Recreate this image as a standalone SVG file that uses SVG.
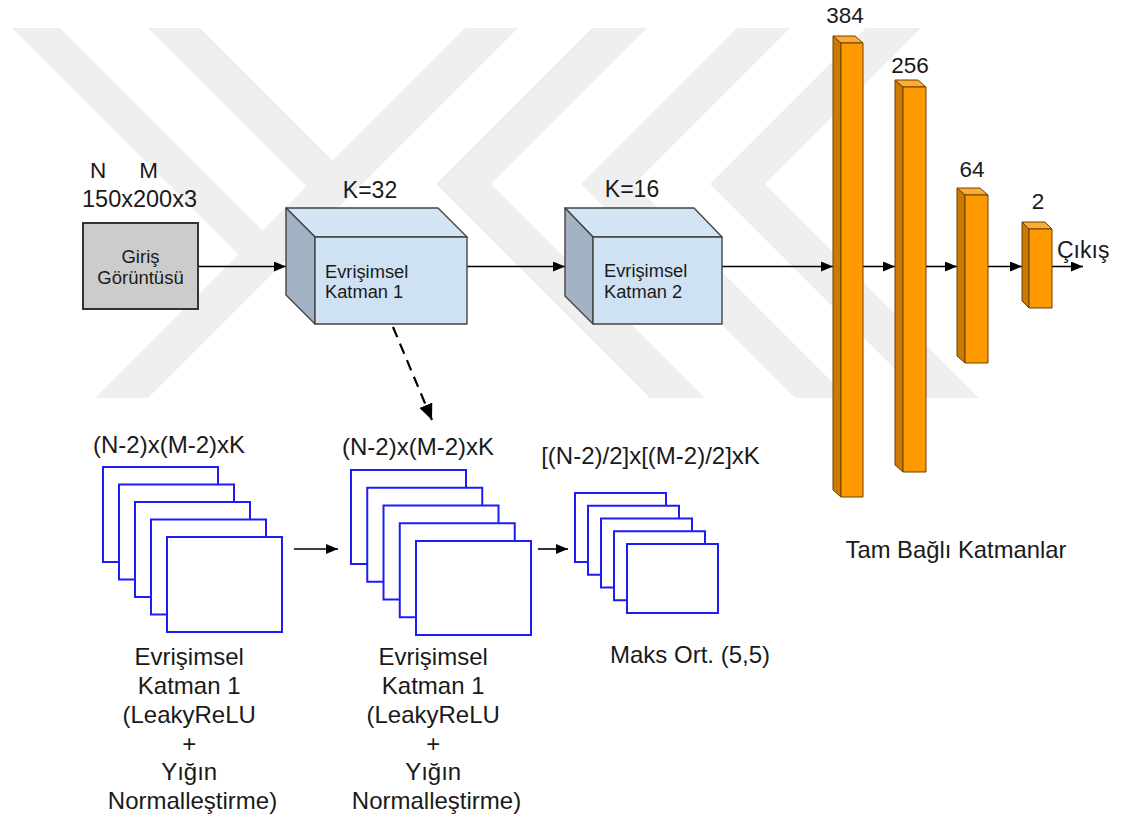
<svg xmlns="http://www.w3.org/2000/svg" width="1121" height="821" viewBox="0 0 1121 821">
  <defs>
    <style>
      text { font-family: "Liberation Sans", Arial, sans-serif; fill: #1a1a1a; }
      .lbl { font-size: 23px; }
      .num { font-size: 22.5px; }
      .big { font-size: 24px; }
      .box { font-size: 18.3px; }
      .mark { fill: #efefef; }
      .conn { stroke: #000; stroke-width: 1.6; fill: none; }
      .dash { stroke: #000; stroke-width: 2.2; fill: none; stroke-dasharray: 11 7; }
      .cube { stroke: #434343; stroke-width: 1.4; stroke-linejoin: round; }
      .cfront { fill: #cfe2f3; }
      .ctop { fill: #d3e4f4; }
      .cside { fill: #a4b3c3; }
      .bar { stroke: #6b4000; stroke-width: 1; stroke-linejoin: round; }
      .bfront { fill: #ff9900; }
      .bside { fill: #cc7a00; }
      .btop { fill: #ffab33; }
      .frame { fill: #fff; stroke: #1c1cf5; stroke-width: 2; }
    </style>
    <marker id="ah" viewBox="0 0 12 10" refX="12" refY="5" markerWidth="12" markerHeight="10" markerUnits="userSpaceOnUse" orient="auto">
      <path d="M0,0 L12,5 L0,10 Z" fill="#000"/>
    </marker>
    <marker id="ahL" viewBox="0 0 16 14" refX="16" refY="7" markerWidth="16" markerHeight="14" markerUnits="userSpaceOnUse" orient="auto">
      <path d="M0,0 L16,7 L0,14 Z" fill="#000"/>
    </marker>
  </defs>

  <rect x="0" y="0" width="1121" height="821" fill="#fff"/>

  <!-- faint background emblem -->
  <g id="emblem">
    <polygon class="mark" points="465,28 518,28 148,398 95,398"/>
    <polygon class="mark" points="12,28 60,28 289,257 238.5,254.5"/>
    <polygon class="mark" points="148,28 200,28 359,187 306.5,186.5"/>
    <polygon class="mark" points="866,28 921,28 765,184 979,398 924,398 710,184"/>
    <polygon class="mark" points="737,28 790,28 634,184 848,398 795,398 581,184"/>
    <polygon class="mark" points="592,28 647,28 491,184 705,398 650,398 436,184"/>
  </g>

  <!-- connectors -->
  <g id="connectors">
    <path class="conn" d="M198,266.5 H286" marker-end="url(#ah)"/>
    <path class="conn" d="M467,266.5 H565" marker-end="url(#ah)"/>
    <path class="conn" d="M722,266.5 H833" marker-end="url(#ah)"/>
    <path class="conn" d="M863,266.5 H895" marker-end="url(#ah)"/>
    <path class="conn" d="M926,266.5 H957" marker-end="url(#ah)"/>
    <path class="conn" d="M988,266.5 H1022" marker-end="url(#ah)"/>
    <path class="conn" d="M1052,266.5 H1083" marker-end="url(#ah)"/>
    <path class="dash" d="M393,327 L432,420" marker-end="url(#ahL)"/>
    <path class="conn" d="M294,549 H338" marker-end="url(#ah)"/>
    <path class="conn" d="M538,549 H568" marker-end="url(#ah)"/>
  </g>

  <!-- input image -->
  <g id="input">
    <text class="num" x="98" y="178" text-anchor="middle">N</text>
    <text class="num" x="148.5" y="178" text-anchor="middle">M</text>
    <text class="lbl" x="139.5" y="207" text-anchor="middle" style="font-size:23.5px">150x200x3</text>
    <rect x="83" y="223" width="115" height="86" fill="#cccccc" stroke="#333" stroke-width="2"/>
    <text class="box" x="140.5" y="263" text-anchor="middle" style="font-size:18.5px">Giriş</text>
    <text class="box" x="140.5" y="284" text-anchor="middle" style="font-size:18.5px">Görüntüsü</text>
  </g>

  <!-- convolution layer 1 -->
  <g id="conv1">
    <text class="lbl" x="370" y="198" text-anchor="middle">K=32</text>
    <polygon class="cube ctop" points="286,208 438,208 467,237 315,237"/>
    <polygon class="cube cside" points="286,208 315,237 315,324 286,295"/>
    <rect class="cube cfront" x="315" y="237" width="152" height="87"/>
    <text class="box" x="325" y="278">Evrişimsel</text>
    <text class="box" x="325" y="298">Katman 1</text>
  </g>

  <!-- convolution layer 2 -->
  <g id="conv2">
    <text class="lbl" x="632" y="197" text-anchor="middle">K=16</text>
    <polygon class="cube ctop" points="565,208 694,208 722,237 593,237"/>
    <polygon class="cube cside" points="565,208 593,237 593,324 565,296"/>
    <rect class="cube cfront" x="593" y="237" width="129" height="87"/>
    <text class="box" x="604" y="277">Evrişimsel</text>
    <text class="box" x="604" y="298">Katman 2</text>
  </g>

  <!-- fully connected layers -->
  <g id="fc384">
    <text class="num" x="845" y="23" text-anchor="middle">384</text>
    <polygon class="bar bside" points="833,36 841,43 841,497 833,490"/>
    <polygon class="bar btop" points="833,36 855,36 863,43 841,43"/>
    <rect class="bar bfront" x="841" y="43" width="22" height="454"/>
  </g>
  <g id="fc256">
    <text class="num" x="910" y="73" text-anchor="middle">256</text>
    <polygon class="bar bside" points="895,80 903,87 903,472 895,465"/>
    <polygon class="bar btop" points="895,80 918,80 926,87 903,87"/>
    <rect class="bar bfront" x="903" y="87" width="23" height="385"/>
  </g>
  <g id="fc64">
    <text class="num" x="972" y="177" text-anchor="middle">64</text>
    <polygon class="bar bside" points="957,188 965,195 965,363 957,356"/>
    <polygon class="bar btop" points="957,188 980,188 988,195 965,195"/>
    <rect class="bar bfront" x="965" y="195" width="23" height="168"/>
  </g>
  <g id="fc2">
    <text class="num" x="1038" y="209" text-anchor="middle">2</text>
    <polygon class="bar bside" points="1022,222 1029,229 1029,308 1022,301"/>
    <polygon class="bar btop" points="1022,222 1045,222 1052,229 1029,229"/>
    <rect class="bar bfront" x="1029" y="229" width="23" height="79"/>
  </g>
  <g id="output">
    <text class="lbl" x="1057" y="258">Çıkış</text>
  </g>
  <g id="fc-caption">
    <text class="lbl" x="956" y="558" text-anchor="middle" style="font-size:23.8px">Tam Bağlı Katmanlar</text>
  </g>

  <!-- feature maps after convolution -->
  <g id="maps1">
    <text class="big" x="169" y="453" text-anchor="middle">(N-2)x(M-2)xK</text>
    <rect class="frame" x="103" y="467" width="115" height="95"/>
    <rect class="frame" x="119" y="484.5" width="115" height="95"/>
    <rect class="frame" x="135" y="502" width="115" height="95"/>
    <rect class="frame" x="151" y="519.5" width="115" height="95"/>
    <rect class="frame" x="167" y="537" width="115" height="95"/>
    <text class="big" text-anchor="middle">
      <tspan x="192.5" y="665">Evrişimsel</tspan>
      <tspan x="192.5" y="694">Katman 1</tspan>
      <tspan x="192.5" y="723">(LeakyReLU</tspan>
      <tspan x="192.5" y="752">+</tspan>
      <tspan x="192.5" y="780">Yığın</tspan>
      <tspan x="192.5" y="809">Normalleştirme)</tspan>
    </text>
  </g>

  <!-- feature maps after activation and normalisation -->
  <g id="maps2">
    <text class="big" x="418" y="455" text-anchor="middle">(N-2)x(M-2)xK</text>
    <rect class="frame" x="351" y="470" width="115" height="94"/>
    <rect class="frame" x="367.25" y="487.75" width="115" height="94"/>
    <rect class="frame" x="383.5" y="505.5" width="115" height="94"/>
    <rect class="frame" x="399.75" y="523.25" width="115" height="94"/>
    <rect class="frame" x="416" y="541" width="115" height="94"/>
    <text class="big" text-anchor="middle">
      <tspan x="436.5" y="665">Evrişimsel</tspan>
      <tspan x="436.5" y="694">Katman 1</tspan>
      <tspan x="436.5" y="723">(LeakyReLU</tspan>
      <tspan x="436.5" y="752">+</tspan>
      <tspan x="436.5" y="780">Yığın</tspan>
      <tspan x="436.5" y="809">Normalleştirme)</tspan>
    </text>
  </g>

  <!-- pooled maps -->
  <g id="maps3">
    <text class="big" x="650.5" y="464" text-anchor="middle">[(N-2)/2]x[(M-2)/2]xK</text>
    <rect class="frame" x="575" y="493" width="91" height="69"/>
    <rect class="frame" x="588" y="505.75" width="91" height="69"/>
    <rect class="frame" x="601" y="518.5" width="91" height="69"/>
    <rect class="frame" x="614" y="531.25" width="91" height="69"/>
    <rect class="frame" x="627" y="544" width="91" height="69"/>
    <text class="big" x="690" y="663" text-anchor="middle">Maks Ort. (5,5)</text>
  </g>
</svg>
